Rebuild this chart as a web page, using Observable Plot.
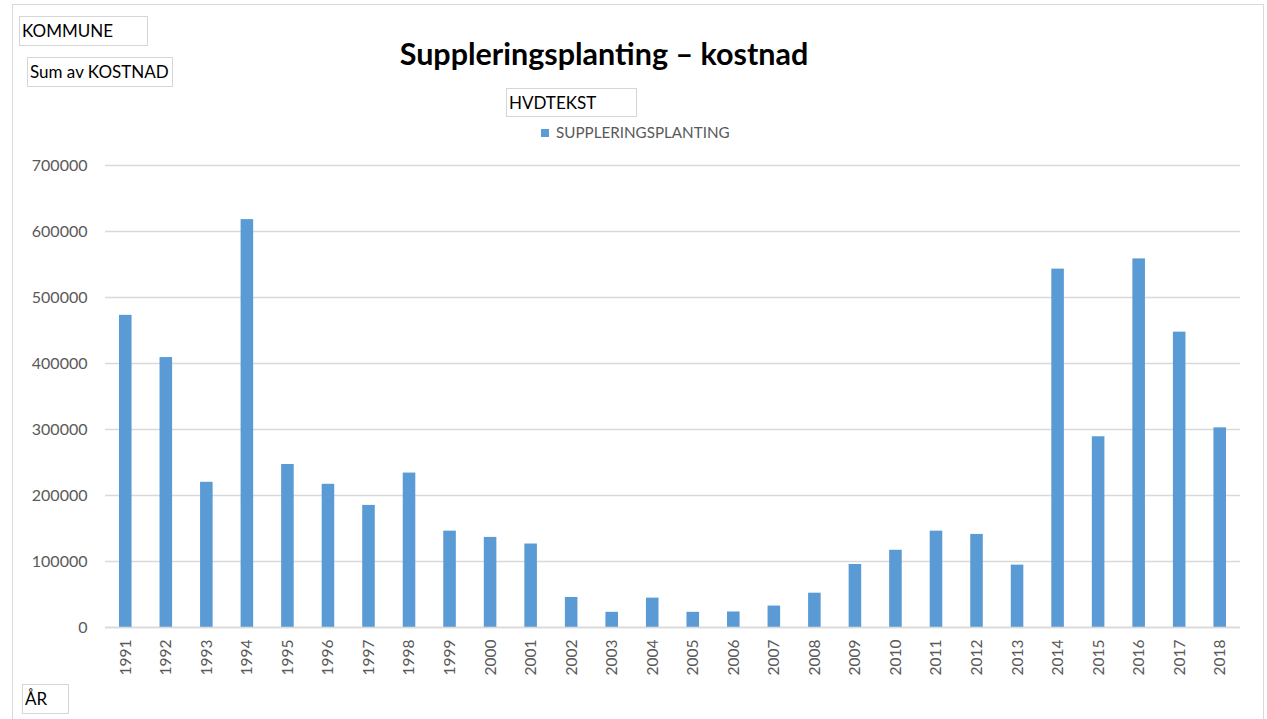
<!DOCTYPE html>
<html><head><meta charset="utf-8">
<script src="https://cdn.jsdelivr.net/npm/d3@7"></script>
<script src="https://cdn.jsdelivr.net/npm/@observablehq/plot@0.6"></script>
<style>
body{margin:0;background:#fff;font-family:Lato,"Open Sans",sans-serif;}
#wrap{position:relative;width:1267px;height:719px;overflow:hidden;}
#chart{position:absolute;left:0;top:0;}
.frame{position:absolute;left:12px;top:4px;width:1252px;height:740px;border:1px solid #d9d9d9;box-sizing:border-box;pointer-events:none;}
.btn{position:absolute;border:1px solid #d6d6d6;background:#fff;font-size:17px;color:#000;box-sizing:border-box;padding-left:2px;line-height:27px;white-space:nowrap;}
.title{position:absolute;left:0;width:1208px;top:35px;text-align:center;font-size:30.5px;font-weight:bold;color:#000;}
.legend{position:absolute;left:541px;top:123px;font-size:15.2px;color:#595959;white-space:nowrap;line-height:18px;}
.legend .sw{display:inline-block;width:8px;height:8px;background:#5b9bd5;margin-right:7px;vertical-align:1px;}
</style>
</head><body>
<div id="wrap">
  <div id="chart"></div>
  <div class="frame"></div>
  <div class="title">Suppleringsplanting – kostnad</div>
  <div class="btn" style="left:19px;top:16px;width:129px;height:30px;">KOMMUNE</div>
  <div class="btn" style="left:27px;top:57px;width:146px;height:30px;">Sum av KOSTNAD</div>
  <div class="btn" style="left:506px;top:88px;width:131px;height:29px;">HVDTEKST</div>
  <div class="legend"><span class="sw"></span>SUPPLERINGSPLANTING</div>
  <div class="btn" style="left:22px;top:684px;width:47px;height:30px;">ÅR</div>
</div>
<script>
const years = ["1991","1992","1993","1994","1995","1996","1997","1998","1999","2000","2001","2002","2003","2004","2005","2006","2007","2008","2009","2010","2011","2012","2013","2014","2015","2016","2017","2018"];
const kostnad = [473000,409000,220000,618000,247000,217000,185000,234000,146000,136500,126500,45500,23000,44500,23000,23500,32500,52000,95500,117000,146000,141000,94500,543000,289000,558500,447500,302500];
const seriesName = "SUPPLERINGSPLANTING";
const yTicks = [0,100000,200000,300000,400000,500000,600000,700000];

const data = years.map((y, i) => ({year: y, value: kostnad[i], series: seriesName}));

const plot = Plot.plot({
  width: 1267,
  height: 719,
  marginLeft: 105,
  marginRight: 27,
  marginTop: 165,
  marginBottom: 92,
  style: {color: "#595959", fontFamily: "Lato, 'Open Sans', sans-serif", background: "transparent"},
  x: {type: "band", domain: years, paddingInner: 0.69, paddingOuter: 0.345, round: false, label: null},
  y: {domain: [0, 700000], label: null},
  marks: [
    Plot.gridY(yTicks, {stroke: "#d9d9d9", strokeOpacity: 1, strokeWidth: 1.3}),
    Plot.barY(data, {x: "year", y: "value", fill: "#5b9bd5"}),
    Plot.ruleY([0], {stroke: "#d9d9d9", strokeWidth: 1.5}),
    Plot.axisY(yTicks, {tickSize: 0, tickPadding: 18, fontSize: 16, tickFormat: d3.format("d"), label: null}),
    Plot.axisX({tickSize: 0, tickPadding: 12, tickRotate: -90, fontSize: 15.5, label: null})
  ]
});
document.getElementById("chart").appendChild(plot);
</script>
</body></html>
